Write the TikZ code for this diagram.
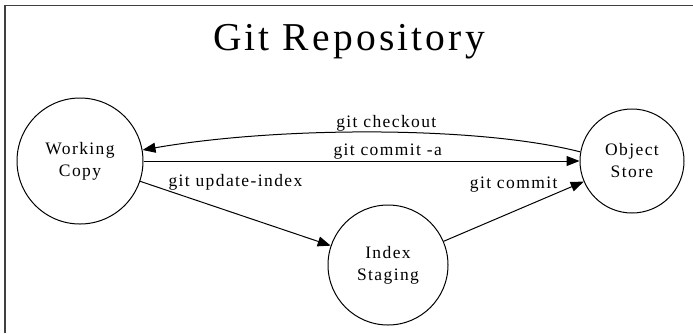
\documentclass[tikz,border=0pt]{standalone}
\usepackage{fontspec}
\setmainfont{Liberation Serif}
\newfontfamily\labfont[LetterSpace=8]{Liberation Serif}
\usetikzlibrary{arrows.meta}
\begin{document}
\begin{tikzpicture}[x=1pt,y=-1pt,
  state/.style={circle, draw, line width=1pt, inner sep=0pt, align=center,
    font=\labfont\fontsize{17.5}{22}\selectfont},
  arr/.style={draw, line width=1pt, -{Triangle[length=13pt,width=10pt]}},
  lbl/.style={anchor=base, inner sep=0pt, font=\labfont\fontsize{17.5}{22}\selectfont},
  frame/.style={line width=1.5pt, draw=black!75},
  ttl/.style={anchor=base, inner sep=0pt, font=\labfont\fontsize{39.5}{46}\selectfont}
]
\useasboundingbox (0,0) rectangle (693,333);
\draw[frame] (5,333) -- (5,5.5) -- (693,5.5);
\node[ttl] (title) at (349,50) {Git Repository};
\node[state, minimum size=126pt] (wc) at (80,161) {Working\\Copy};
\node[state, minimum size=104pt] (os) at (632,161) {Object\\Store};
\node[state, minimum size=120pt] (is) at (388,265) {Index\\Staging};
\draw[arr] (os.170) .. controls (480,126) and (280,126) .. node[lbl, pos=0.5, xshift=11pt, yshift=5pt] {git checkout} (wc.10);
\draw[arr] (wc) -- node[lbl, pos=0.56, yshift=6pt] {git commit -a} (os);
\draw[arr] (wc) -- node[lbl, pos=0.5, yshift=27pt] {git update-index} (is);
\draw[arr] (is) -- node[lbl, pos=0.5, yshift=23pt] {git commit} (os);
\end{tikzpicture}
\end{document}
